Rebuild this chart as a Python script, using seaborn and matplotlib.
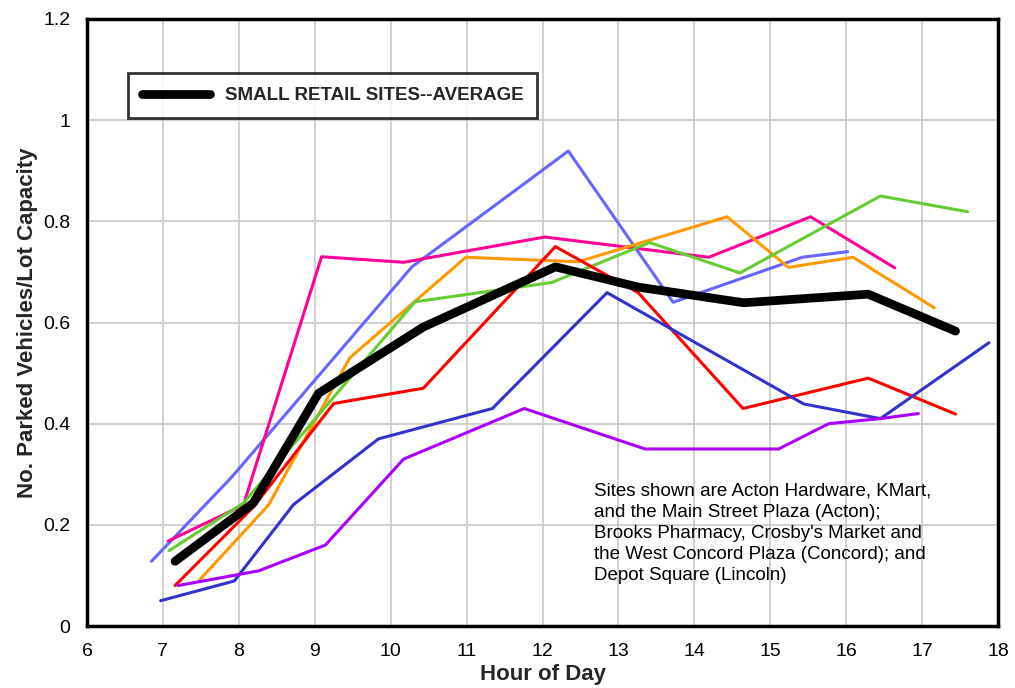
import matplotlib
matplotlib.use("Agg")
import matplotlib.pyplot as plt
import seaborn as sns
import pandas as pd

# ---- data ----
lightblue_x = [6.85, 7.91, 10.28, 12.34, 13.72, 15.42, 16.02]
lightblue_y = [0.128, 0.295, 0.71, 0.939, 0.64, 0.729, 0.74]

pink_x = [7.07, 8.06, 9.09, 10.17, 12.03, 14.19, 15.53, 16.64]
pink_y = [0.168, 0.239, 0.73, 0.719, 0.769, 0.729, 0.809, 0.708]

orange_x = [7.47, 8.39, 9.46, 10.99, 12.47, 14.43, 15.24, 16.09, 17.16]
orange_y = [0.089, 0.239, 0.53, 0.729, 0.72, 0.809, 0.709, 0.729, 0.629]

green_x = [7.08, 8.06, 10.32, 12.12, 13.41, 14.60, 16.45, 17.60]
green_y = [0.149, 0.243, 0.641, 0.679, 0.758, 0.698, 0.85, 0.819]

red_x = [7.16, 8.19, 9.25, 10.43, 12.17, 13.26, 14.64, 16.29, 17.44]
red_y = [0.08, 0.235, 0.44, 0.47, 0.75, 0.659, 0.43, 0.49, 0.419]

darkblue_x = [6.97, 7.94, 8.72, 9.84, 11.34, 12.85, 15.44, 16.45, 17.88]
darkblue_y = [0.05, 0.089, 0.24, 0.37, 0.43, 0.659, 0.439, 0.41, 0.56]

purple_x = [7.20, 8.26, 9.14, 10.17, 11.76, 13.35, 15.11, 15.77, 16.45, 16.95]
purple_y = [0.08, 0.109, 0.16, 0.33, 0.43, 0.35, 0.35, 0.40, 0.41, 0.42]

avg_x = [7.16, 8.19, 9.05, 10.43, 12.17, 13.26, 14.65, 16.29, 17.44]
avg_y = [0.128, 0.243, 0.46, 0.591, 0.71, 0.67, 0.639, 0.656, 0.583]

x_ticks = [6, 7, 8, 9, 10, 11, 12, 13, 14, 15, 16, 17, 18]
y_ticks = [0, 0.2, 0.4, 0.6, 0.8, 1.0, 1.2]
y_ticklabels = ["0", "0.2", "0.4", "0.6", "0.8", "1", "1.2"]

series = {
    "s1": (lightblue_x, lightblue_y),
    "s2": (pink_x, pink_y),
    "s3": (orange_x, orange_y),
    "s4": (green_x, green_y),
    "s5": (red_x, red_y),
    "s6": (darkblue_x, darkblue_y),
    "s7": (purple_x, purple_y),
}
palette = {
    "s1": "#6666FF",
    "s2": "#FF0099",
    "s3": "#FF9900",
    "s4": "#66CC33",
    "s5": "#FF0000",
    "s6": "#3333CC",
    "s7": "#AA00FF",
}

rows = []
for name, (xs, ys) in series.items():
    for i, (xv, yv) in enumerate(zip(xs, ys)):
        rows.append({"site": name, "hour": xv, "value": yv, "order": i})
df = pd.DataFrame(rows)
avg_df = pd.DataFrame({"hour": avg_x, "value": avg_y})

sns.set_theme(style="white")
plt.rcParams["font.family"] = ["Liberation Sans", "DejaVu Sans"]

fig = plt.figure(figsize=(10.15, 6.88), dpi=100)
ax = fig.add_axes([0.0857, 0.0901, 0.8976, 0.8823])

sns.lineplot(data=df, x="hour", y="value", hue="site", units="site",
             estimator=None, sort=False, palette=palette, linewidth=2.2,
             legend=False, ax=ax)
sns.lineplot(data=avg_df, x="hour", y="value", color="black", linewidth=6.3,
             sort=False, estimator=None, ax=ax,
             label="SMALL RETAIL SITES--AVERAGE")
for ln in ax.lines:
    ln.set_solid_capstyle("round")
    ln.set_solid_joinstyle("round")

ax.set_xlim(6, 18)
ax.set_ylim(0, 1.2)
ax.set_xticks(x_ticks)
ax.set_xticklabels([str(t) for t in x_ticks])
ax.set_yticks(y_ticks)
ax.set_yticklabels(y_ticklabels)
ax.grid(True, color="#C8C8C8", linewidth=1.2)
ax.set_axisbelow(True)
for sp in ax.spines.values():
    sp.set_color("black")
    sp.set_linewidth(2.5)
ax.tick_params(axis="x", length=0, labelsize=14, pad=12, colors="black")
ax.tick_params(axis="y", length=0, labelsize=14, pad=12, colors="black")

ax.set_xlabel("Hour of Day", fontsize=16, fontweight="bold", labelpad=3)
ax.set_ylabel("No. Parked Vehicles/Lot Capacity", fontsize=16,
              fontweight="bold", labelpad=4)

leg = ax.legend(loc="upper left", bbox_to_anchor=(0.045, 0.911),
                borderaxespad=0, frameon=True, fancybox=False,
                handlelength=3.6, handletextpad=0.8,
                prop={"weight": "bold", "size": 13.5},
                borderpad=0.75)
leg.get_frame().set_edgecolor("black")
leg.get_frame().set_linewidth(2)
for h in leg.get_lines():
    h.set_linewidth(6.3)
    h.set_solid_capstyle("round")

ax.text(0.556, 0.236,
        "Sites shown are Acton Hardware, KMart,\n"
        "and the Main Street Plaza (Acton);\n"
        "Brooks Pharmacy, Crosby's Market and\n"
        "the West Concord Plaza (Concord); and\n"
        "Depot Square (Lincoln)",
        transform=ax.transAxes, fontsize=13.5, va="top", ha="left",
        linespacing=1.32, color="black")

fig.savefig("out.png", dpi=100)
